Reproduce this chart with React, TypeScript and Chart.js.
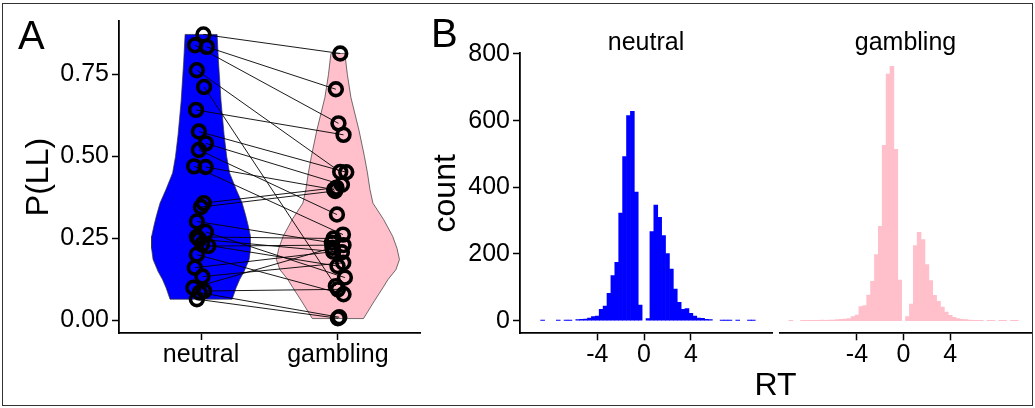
import React, { useEffect, useRef } from "react";
import { Chart, registerables } from "chart.js";

Chart.register(...registerables);

const FONT = "'Liberation Sans', Arial, Helvetica, sans-serif";

// ---------- Panel A data ----------
const conditions = ["neutral", "gambling"];
const pTicks = [0, 0.25, 0.5, 0.75];

const neutralP = [0.872, 0.839, 0.834, 0.763, 0.712, 0.642, 0.576, 0.54, 0.52, 0.47, 0.468, 0.358, 0.346, 0.302, 0.27, 0.255, 0.248, 0.232, 0.227, 0.201, 0.161, 0.134, 0.1, 0.09, 0.065, 0.085];
const neutralJitter = [0.017, -0.044, 0.042, -0.031, 0.022, -0.037, -0.016, 0.035, -0.016, -0.051, 0.033, 0.02, -0.001, -0.031, 0.035, -0.031, -0.015, 0.007, 0.053, -0.031, -0.046, 0.01, -0.056, 0.022, -0.031, -0.01];
const gamblingP = [0.814, 0.601, 0.705, 0.453, 0.105, 0.566, 0.452, 0.414, 0.323, 0.262, 0.399, 0.405, 0.395, 0.237, 0.131, 0.25, 0.208, 0.166, 0.23, 0.08, 0.21, 0.176, 0.222, 0.095, 0.007, 0.01];
const gamblingJitter = [0.017, 0.004, -0.015, 0.017, -0.015, 0.041, 0.061, 0.029, -0.007, 0.037, -0.027, -0.01, -0.02, -0.044, 0.051, -0.032, 0.029, -0.003, 0.041, 0.041, -0.034, 0.039, -0.04, 0.0, 0.0, 0.01];

// violin outlines: P(LL) level and half width (x units)
const neutralViolinY = [0.065, 0.1, 0.125, 0.15, 0.186, 0.22, 0.257, 0.29, 0.32, 0.358, 0.4, 0.45, 0.5, 0.567, 0.668, 0.79, 0.872];
const neutralViolinHalfWidth = [0.227, 0.256, 0.282, 0.315, 0.351, 0.362, 0.361, 0.344, 0.326, 0.3, 0.256, 0.208, 0.187, 0.168, 0.146, 0.127, 0.117];
const gamblingViolinY = [0.006, 0.06, 0.1, 0.125, 0.155, 0.186, 0.22, 0.257, 0.308, 0.358, 0.4, 0.45, 0.5, 0.58, 0.68, 0.75, 0.814];
const gamblingViolinHalfWidth = [0.187, 0.267, 0.329, 0.366, 0.424, 0.45, 0.432, 0.4, 0.334, 0.256, 0.234, 0.216, 0.194, 0.154, 0.095, 0.069, 0.051];

// ---------- Panel B data ----------
const rtBinCenters = [
  -9.667, -9.333, -9.0, -8.667, -8.333, -8.0, -7.667, -7.333, -7.0, -6.667,
  -6.333, -6.0, -5.667, -5.333, -5.0, -4.667, -4.333, -4.0, -3.667, -3.333,
  -3.0, -2.667, -2.333, -2.0, -1.667, -1.333, -1.0, -0.667, -0.333, 0.0,
  0.333, 0.667, 1.0, 1.333, 1.667, 2.0, 2.333, 2.667, 3.0, 3.333,
  3.667, 4.0, 4.333, 4.667, 5.0, 5.333, 5.667, 6.0, 6.333, 6.667,
  7.0, 7.333, 7.667, 8.0, 8.333, 8.667, 9.0, 9.333, 9.667,
];
const neutralCounts = [
  0, 0, 0, 1, 0, 0, 0, 1, 0, 1,
  1, 0, 3, 4, 5, 8, 12, 14, 34, 44,
  82, 135, 175, 323, 492, 615, 628, 386, 47, 0,
  6, 267, 347, 310, 255, 201, 155, 95, 55, 34,
  36, 22, 14, 8, 7, 4, 3, 0, 0, 1,
  1, 1, 0, 1, 0, 0, 1, 1, 0,
];
const gamblingCounts = [
  1, 0, 0, 1, 1, 1, 1, 1, 2, 1,
  2, 2, 3, 4, 5, 6, 12, 17, 42, 45,
  77, 118, 198, 283, 526, 740, 763, 514, 122, 0,
  12, 50, 225, 265, 243, 168, 120, 76, 58, 41,
  26, 16, 10, 6, 4, 3, 2, 1, 1, 1,
  0, 1, 1, 0, 1, 1, 0, 1, 1,
];
const facetLabels = ["neutral", "gambling"];
const rtTicks = [-4, 0, 4];
const countTicks = [0, 200, 400, 600, 800];

const BLUE = "#0000FF";
const PINK = "#FFC0CB";

function violinPoints(center: number, ys: number[], hws: number[]) {
  const right = ys.map((y, i) => ({ x: center + hws[i], y }));
  const left = ys.map((y, i) => ({ x: center - hws[i], y })).reverse();
  return [...right, ...left, right[0]];
}

const tickFont = { family: FONT, size: 25 };
const titleFont = { family: FONT, size: 32, lineHeight: 1 };

function pointsDataset(values: number[], jitter: number[], center: number) {
  return {
    type: "line",
    showLine: false,
    data: values.map((y, i) => ({ x: center + jitter[i], y })),
    pointStyle: "circle",
    pointRadius: 6.4,
    pointBorderWidth: 3.6,
    pointBorderColor: "#000000",
    pointBackgroundColor: "rgba(0,0,0,0)",
    pointHoverRadius: 6.4,
    pointHoverBorderWidth: 3.6,
    borderColor: "#000000",
    fill: false,
    order: 1,
  };
}

function makeA(): any {
  const pairDatasets = neutralP.map((np, i) => ({
    type: "line",
    data: [
      { x: 1 + neutralJitter[i], y: np },
      { x: 2 + gamblingJitter[i], y: gamblingP[i] },
    ],
    borderColor: "#000000",
    borderWidth: 0.9,
    pointRadius: 0,
    fill: false,
    order: 5,
  }));
  return {
    type: "scatter",
    data: {
      datasets: [
        {
          type: "line",
          data: violinPoints(1, neutralViolinY, neutralViolinHalfWidth),
          backgroundColor: BLUE,
          borderColor: "#333333",
          borderWidth: 0.7,
          fill: "shape",
          pointRadius: 0,
          order: 10,
        },
        {
          type: "line",
          data: violinPoints(2, gamblingViolinY, gamblingViolinHalfWidth),
          backgroundColor: PINK,
          borderColor: "#333333",
          borderWidth: 0.7,
          fill: "shape",
          pointRadius: 0,
          order: 10,
        },
        ...pairDatasets,
        pointsDataset(neutralP, neutralJitter, 1),
        pointsDataset(gamblingP, gamblingJitter, 2),
      ],
    },
    options: {
      animation: false,
      responsive: false,
      maintainAspectRatio: false,
      events: [],
      layout: { padding: { top: 21, right: 10, bottom: 35, left: 0 } },
      plugins: { legend: { display: false }, tooltip: { enabled: false } },
      scales: {
        x: {
          type: "linear",
          min: 0.4,
          max: 2.6,
          afterBuildTicks: (s: any) => {
            s.ticks = [1, 2].map((v) => ({ value: v }));
          },
          afterFit: (s: any) => {
            s.height = 40;
          },
          ticks: {
            callback: (v: number) => conditions[Math.round(v) - 1] ?? "",
            font: tickFont,
            color: "#000000",
            padding: 0,
            maxRotation: 0,
            autoSkip: false,
          },
          grid: { display: true, drawOnChartArea: false, drawTicks: true, tickLength: 7, tickColor: "#000000", tickWidth: 1.5 },
          border: { display: true, color: "#000000", width: 1.8 },
        },
        y: {
          type: "linear",
          min: -0.038,
          max: 0.913,
          afterBuildTicks: (s: any) => {
            s.ticks = pTicks.map((v) => ({ value: v }));
          },
          afterFit: (s: any) => {
            s.width = 119;
          },
          ticks: {
            callback: (v: number) => v.toFixed(2),
            font: tickFont,
            color: "#000000",
            padding: 3,
            autoSkip: false,
          },
          title: { display: true, text: "P(LL)", font: titleFont, color: "#000000", padding: { top: 23, bottom: 0 } },
          grid: { display: true, drawOnChartArea: false, drawTicks: true, tickLength: 7, tickColor: "#000000", tickWidth: 1.5 },
          border: { display: true, color: "#000000", width: 1.8 },
        },
      },
    },
  };
}

function makeB(counts: number[], color: string, showY: boolean, pad: any): any {
  return {
    type: "bar",
    data: {
      datasets: [
        {
          data: rtBinCenters.map((x, i) => ({ x, y: counts[i] === 0 ? null : counts[i] })),
          backgroundColor: color,
          borderWidth: 0,
          barPercentage: 1,
          categoryPercentage: 1,
        },
      ],
    },
    options: {
      animation: false,
      responsive: false,
      maintainAspectRatio: false,
      events: [],
      layout: { padding: pad },
      plugins: { legend: { display: false }, tooltip: { enabled: false } },
      scales: {
        x: {
          type: "linear",
          min: -10.6,
          max: 10.93,
          offset: false,
          afterBuildTicks: (s: any) => {
            s.ticks = rtTicks.map((v) => ({ value: v }));
          },
          afterFit: (s: any) => {
            s.height = 40;
          },
          ticks: {
            callback: (v: number) => String(v),
            font: tickFont,
            color: "#000000",
            padding: 0,
            maxRotation: 0,
            autoSkip: false,
          },
          grid: { display: true, offset: false, drawOnChartArea: false, drawTicks: true, tickLength: 7, tickColor: "#000000", tickWidth: 1.5 },
          border: { display: true, color: "#000000", width: 1.8 },
        },
        y: {
          type: "linear",
          display: showY,
          min: -38,
          max: 802,
          afterBuildTicks: (s: any) => {
            s.ticks = countTicks.map((v) => ({ value: v }));
          },
          afterFit: (s: any) => {
            s.width = showY ? 90 : 0;
          },
          ticks: {
            callback: (v: number) => String(v),
            font: tickFont,
            color: "#000000",
            padding: 3,
            autoSkip: false,
          },
          title: { display: showY, text: "count", font: titleFont, color: "#000000", padding: { top: 0, bottom: 0 } },
          grid: { display: true, drawOnChartArea: false, drawTicks: true, tickLength: 7, tickColor: "#000000", tickWidth: 1.5 },
          border: { display: true, color: "#000000", width: 1.8 },
        },
      },
    },
  };
}

function ChartBox(props: { left: number; top: number; width: number; height: number; make: () => any }) {
  const ref = useRef<HTMLCanvasElement>(null);
  useEffect(() => {
    const chart = new Chart(ref.current as HTMLCanvasElement, props.make());
    return () => chart.destroy();
  }, []);
  return (
    <canvas
      ref={ref}
      width={props.width}
      height={props.height}
      style={{ position: "absolute", left: props.left, top: props.top, width: props.width, height: props.height }}
    />
  );
}

const textBase: React.CSSProperties = {
  position: "absolute",
  fontFamily: FONT,
  color: "#000000",
  whiteSpace: "nowrap",
};

export default function App() {
  return (
    <div
      style={{
        position: "fixed",
        left: 0,
        top: 0,
        width: 1035,
        height: 408,
        background: "#ffffff",
        overflow: "hidden",
      }}
    >
      <ChartBox left={0} top={0} width={430} height={408} make={makeA} />
      <ChartBox
        left={430}
        top={0}
        width={346}
        height={408}
        make={() => makeB(neutralCounts, BLUE, true, { top: 53.3, right: 4, bottom: 34.7, left: 0 })}
      />
      <ChartBox
        left={776}
        top={0}
        width={259}
        height={408}
        make={() => makeB(gamblingCounts, PINK, false, { top: 53.3, right: 4, bottom: 34.7, left: 4 })}
      />
      <div style={{ ...textBase, left: 18, top: 14.7, fontSize: 40, lineHeight: "40px" }}>A</div>
      <div style={{ ...textBase, left: 431, top: 12.8, fontSize: 40, lineHeight: "40px" }}>B</div>
      <div style={{ ...textBase, left: 520, width: 252, top: 29, fontSize: 25, lineHeight: "25px", textAlign: "center" }}>
        {facetLabels[0]}
      </div>
      <div style={{ ...textBase, left: 780, width: 251, top: 29, fontSize: 25, lineHeight: "25px", textAlign: "center" }}>
        {facetLabels[1]}
      </div>
      <div style={{ ...textBase, left: 520, width: 511, top: 368, fontSize: 32, lineHeight: "32px", textAlign: "center" }}>
        RT
      </div>
      <div
        style={{
          position: "absolute",
          left: 2,
          top: 3,
          width: 1031,
          height: 403,
          border: "1.5px solid #333333",
          boxSizing: "border-box",
          pointerEvents: "none",
        }}
      />
    </div>
  );
}
